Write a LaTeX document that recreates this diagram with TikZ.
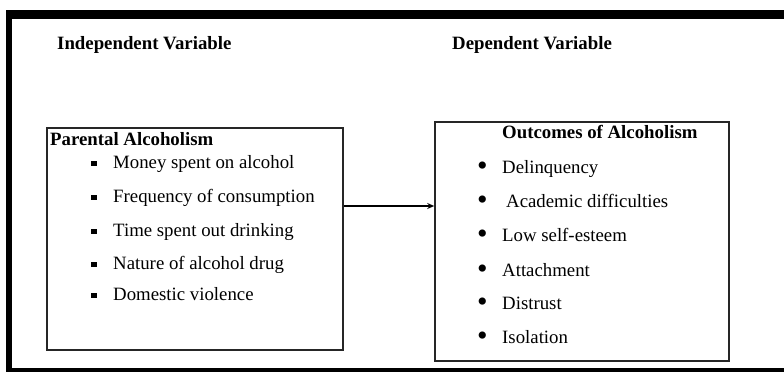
\documentclass[tikz,border=0pt]{standalone}
\usepackage{fontspec}
\setmainfont{Liberation Serif}
\usepackage{tikz}
\usetikzlibrary{positioning, arrows.meta}
\newcommand{\sqbul}[1]{\makebox[#1][l]{\rule[0.22ex]{0.29em}{0.29em}}}
\newcommand{\rdbul}[1]{\makebox[#1][l]{\raisebox{-2.6pt}{\scalebox{1.6}{\textbullet}}}}

\begin{document}
\begin{tikzpicture}[
      x=1pt, y=-1pt,
      every node/.style={font=\fontsize{18.8}{22}\selectfont, inner sep=0pt},
      box/.style={draw=black!85, line width=1.6pt},
      head/.style={anchor=base west, font=\fontsize{18.8}{22}\selectfont\bfseries},
      item/.style={anchor=base west},
      >={Stealth[length=7pt, width=6pt]},
    ]
    \useasboundingbox (0,0) rectangle (784,372);

    % Frame
    \fill (6,10) rectangle (784,19);
    \fill (6,10) rectangle (12,372);
    \fill (6,368) rectangle (784,372);

    % Headings
    \node[head] (indhead) at (57,49) {Independent Variable};
    \node[head] (dephead) at (452,49) {Dependent Variable};

    % Independent box
    \node[box, minimum width=296pt, minimum height=222pt] (ind) at (195,239) {};
    \node[head] (indtitle) at (50,145) {Parental Alcoholism};
    \node[item] (i1) at (91,168) {\sqbul{22pt}Money spent on alcohol};
    \node[item] (i2) at (91,202) {\sqbul{22pt}Frequency of consumption};
    \node[item] (i3) at (91,236) {\sqbul{22pt}Time spent out drinking};
    \node[item] (i4) at (91,269) {\sqbul{22pt}Nature of alcohol drug};
    \node[item] (i5) at (91,300) {\sqbul{22pt}Domestic violence};

    % Dependent box
    \node[box, minimum width=294pt, minimum height=239pt] (dep) at (582,241.5) {};
    \node[head] (deptitle) at (502,138) {Outcomes of Alcoholism};
    \node[item] (o1) at (477,173) {\rdbul{25pt}Delinquency};
    \node[item] (o2) at (477,207) {\rdbul{29pt}Academic difficulties};
    \node[item] (o3) at (477,241) {\rdbul{25pt}Low self-esteem};
    \node[item] (o4) at (477,276) {\rdbul{25pt}Attachment};
    \node[item] (o5) at (477,309) {\rdbul{25pt}Distrust};
    \node[item] (o6) at (477,343) {\rdbul{25pt}Isolation};

    % Link
    \coordinate (link) at (0,206);
    \draw[->, line width=1.2pt] (ind.east |- link) -- (dep.west |- link);
  \end{tikzpicture}
\end{document}
